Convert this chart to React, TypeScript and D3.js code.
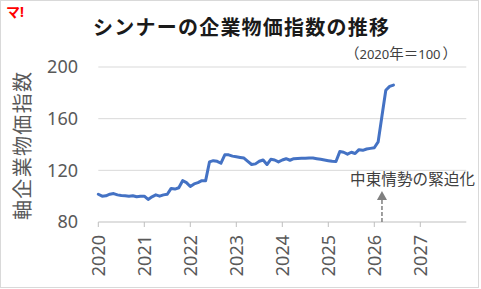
import React from "react";
import * as d3 from "d3";

const startYear = 2020;
// monthly index values, Jan 2020 onward
const values: number[] = [
  // 2020
  101.5, 100, 100.3, 101.5, 102, 101, 100.5, 100.3, 100, 100.3, 99.5, 100,
  // 2021
  100, 97.5, 99.5, 101, 100, 101, 101.5, 106, 105.5, 106.5, 112, 110.5,
  // 2022
  107.5, 109.5, 110.5, 112, 112, 126.5, 127.5, 127, 125.5, 132, 132, 131,
  // 2023
  130.5, 130, 129.5, 127, 124.5, 125, 127, 128, 124.5, 128.5, 128, 126.5,
  // 2024
  128, 129, 127.8, 129, 129.2, 129.3, 129.3, 129.5, 129.5, 129, 128.5, 128,
  // 2025
  127.5, 127, 126.8, 134.5, 134, 132.5, 134, 133, 136, 135.5, 136.5, 137,
  // 2026
  137.5, 142, 162, 182, 185, 186,
];
const yTicks = [80, 120, 160, 200];
const xTicks = [2020, 2021, 2022, 2023, 2024, 2025, 2026, 2027];
const title = "シンナーの企業物価指数の推移";
const subtitleParts = ["（", "2020", "年", "＝", "100", "）"];
const yLabel = "軸企業物価指数";
const annotation = "中東情勢の緊迫化";
const annotationX = 2026 + 2 / 12;

const W = 481;
const H = 289;
const FONT = "'Noto Sans', 'Noto Sans CJK JP', sans-serif";

export default function App() {
  const x = d3.scaleLinear().domain([2020, 2028]).range([98.3, 466.3]);
  const y = d3.scaleLinear().domain([80, 200]).range([222, 67]);
  const line = d3
    .line<number>()
    .x((_, i) => x(startYear + i / 12))
    .y((d) => y(d))
    .curve(d3.curveLinear);
  const ax = x(annotationX);
  return (
    <div style={{ position: "fixed", left: 0, top: 0 }}>
      <svg width={W} height={H} style={{ display: "block", fontFamily: FONT }}>
        <rect x={0} y={0} width={W} height={H} fill="#ffffff" />
        <rect x={0.5} y={0.5} width={478} height={287} fill="none" stroke="#d9d9d9" />
        <text x={6} y={17} fill="#ff0000" fontSize={14} fontWeight="bold">マ!</text>
        <text x={93} y={35} fontSize={20} fontWeight="bold" fill="#1a1a1a" textLength={296} lengthAdjust="spacing">{title}</text>
        <text x={345} y={58.5} fontSize={13} fill="#404040">
          {subtitleParts.map((p, i) => (
            <tspan key={i} fontSize={/\d/.test(p) ? 13 : 14.5} dx={i === 5 ? 2 : 0}>{p}</tspan>
          ))}
        </text>
        {yTicks.filter((t) => t !== 80).map((t) => (
          <line key={t} x1={x(2020)} x2={x(2028)} y1={y(t)} y2={y(t)} stroke="#d9d9d9" strokeWidth={1} />
        ))}
        <line x1={x(2020)} x2={x(2028)} y1={y(80)} y2={y(80)} stroke="#bfbfbf" strokeWidth={1} />
        {xTicks.map((t) => (
          <line key={t} x1={x(t)} x2={x(t)} y1={y(80)} y2={y(80) + 5} stroke="#bfbfbf" strokeWidth={1} />
        ))}
        {yTicks.map((t) => (
          <text key={t} x={78} y={y(t)} dy="0.36em" textAnchor="end" fontSize={18} fill="#595959">{t}</text>
        ))}
        {xTicks.map((t) => (
          <text
            key={t}
            transform={`translate(${x(t)},${y(80) + 13}) rotate(-90)`}
            textAnchor="end"
            dy="0.36em"
            fontSize={18}
            fill="#595959"
          >
            {t}
          </text>
        ))}
        <text
          transform={`translate(23,146) rotate(-90)`}
          x={-74}
          dy="0.36em"
          fontSize={20}
          fill="#595959"
          textLength={148}
          lengthAdjust="spacing"
        >
          {yLabel}
        </text>
        <path d={line(values) || ""} fill="none" stroke="#4472c4" strokeWidth={3} strokeLinejoin="round" strokeLinecap="round" />
        <line x1={ax} x2={ax} y1={y(80)} y2={199} stroke="#7f7f7f" strokeWidth={1.5} strokeDasharray="4,2" />
        <path d={`M${ax},191 L${ax - 5},200 L${ax + 5},200 Z`} fill="#7f7f7f" />
        <text x={350} y={185} fontSize={15.5} fill="#404040" textLength={125} lengthAdjust="spacing">{annotation}</text>
      </svg>
    </div>
  );
}
